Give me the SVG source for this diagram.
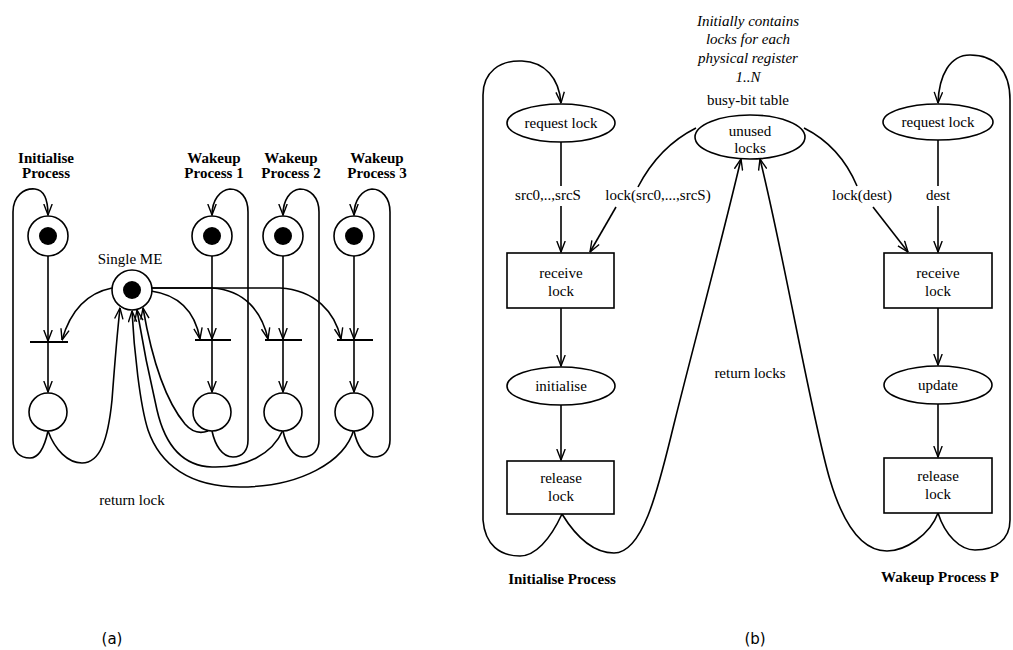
<svg xmlns="http://www.w3.org/2000/svg" width="1013" height="650" viewBox="0 0 1013 650">
  <defs>
    <!-- open V arrowhead used on every directed arc -->
    <marker id="arr" markerUnits="userSpaceOnUse" viewBox="0 0 12 10" refX="11.5" refY="5" markerWidth="12" markerHeight="10" orient="auto">
      <path d="M0.5,0.8 L11.5,5 L0.5,9.2" fill="none" stroke="#000" stroke-width="1.4"/>
    </marker>
  </defs>
  <style>
    .c{fill:none;stroke:#000;stroke-width:1.6}
    .a{marker-end:url(#arr)}
    .place{fill:#fff;stroke:#000;stroke-width:1.6}
    .tok{fill:#000}
    .bar{stroke:#000;stroke-width:2}
    text{font-family:"Liberation Serif",serif;font-size:15px;fill:#000;text-anchor:middle}
    .b{font-weight:bold}
    .i{font-style:italic}
    .sf{font-family:"DejaVu Sans",sans-serif;font-size:15px}
  </style>
  <rect width="1013" height="650" fill="#fff"/>

  <!-- ============ (a) Petri net with a single mutual-exclusion place ============ -->
  <g id="a-connectors">
    <!-- process columns: ready place -> transition -> done place -->
    <path class="c a" d="M48,256 L48,341"/>
    <path class="c a" d="M48,342 L48,392"/>
    <path class="c a" d="M212,256 L212,339"/>
    <path class="c a" d="M212,340 L212,392"/>
    <path class="c a" d="M283,256 L283,339"/>
    <path class="c a" d="M283,340 L283,392"/>
    <path class="c a" d="M354,256 L354,339"/>
    <path class="c a" d="M354,340 L354,392"/>
    <!-- process loops back to the ready place -->
    <path class="c a" d="M48,431 C45,445 40,458 30,458 C20,458 13,452 13,440 L13,212 C13,196 24,188 35,189 C44,190 48,200 48,215"/>
    <path class="c a" d="M212,431 C215,445 222,457 233,457 C243,457 248,450 248,440 L248,212 C248,197 240,189 230,189 C220,190 212,200 212,215"/>
    <path class="c a" d="M283,431 C286,445 293,457 303,457 C313,457 319,450 319,440 L319,212 C319,197 310,189 300,189 C290,190 283,200 283,215"/>
    <path class="c a" d="M354,431 C357,445 364,457 374,457 C384,457 390,450 390,440 L390,212 C390,197 381,189 372,189 C362,190 354,200 354,215"/>
    <!-- lock taken from Single ME -->
    <path class="c a" d="M112,288 C92,292 72,305 62,340"/>
    <path class="c a" d="M151,291 C180,295 195,312 200,339"/>
    <path class="c a" d="M152,288 L212,288 C245,290 262,312 268,339"/>
    <path class="c a" d="M152,288 L280,288 C315,290 335,312 341,339"/>
    <!-- lock returned to Single ME -->
    <path class="c a" d="M48,431 C55,450 68,463 82,463 C100,463 108,440 112,400 C115,360 117,335 120,308"/>
    <path class="c a" d="M208,431 C200,434 192,432 185,424 C165,400 152,360 143,308"/>
    <path class="c a" d="M283,430 C272,455 245,468 212,467 C182,466 165,445 157,410 C150,380 142,340 137,310"/>
    <path class="c a" d="M354,429 C345,462 300,487 240,487 C190,487 160,465 148,430 C140,405 134,350 132,311"/>
  </g>

  <g id="a-init-label"><text class="b" x="46" y="163">Initialise</text><text class="b" x="46" y="178">Process</text></g>
  <g id="a-w1-label"><text class="b" x="214" y="163">Wakeup</text><text class="b" x="214" y="178">Process 1</text></g>
  <g id="a-w2-label"><text class="b" x="291" y="163">Wakeup</text><text class="b" x="291" y="178">Process 2</text></g>
  <g id="a-w3-label"><text class="b" x="377" y="163">Wakeup</text><text class="b" x="377" y="178">Process 3</text></g>

  <g id="a-init-ready"><circle class="place" cx="48" cy="236" r="20"/><circle class="tok" cx="48" cy="236" r="9"/></g>
  <g id="a-w1-ready"><circle class="place" cx="212" cy="236" r="20"/><circle class="tok" cx="212" cy="236" r="9"/></g>
  <g id="a-w2-ready"><circle class="place" cx="283" cy="236" r="20"/><circle class="tok" cx="283" cy="236" r="9"/></g>
  <g id="a-w3-ready"><circle class="place" cx="354" cy="236" r="20"/><circle class="tok" cx="354" cy="236" r="9"/></g>

  <g id="a-single-me">
    <text x="130" y="264">Single ME</text>
    <circle class="place" cx="132" cy="290" r="20"/><circle class="tok" cx="132" cy="290" r="9"/>
  </g>

  <g id="a-init-trans"><line class="bar" x1="30" y1="342" x2="68" y2="342"/></g>
  <g id="a-w1-trans"><line class="bar" x1="195" y1="340" x2="231" y2="340"/></g>
  <g id="a-w2-trans"><line class="bar" x1="265" y1="340" x2="302" y2="340"/></g>
  <g id="a-w3-trans"><line class="bar" x1="337" y1="340" x2="373" y2="340"/></g>

  <g id="a-init-done"><circle class="place" cx="48" cy="412" r="19"/></g>
  <g id="a-w1-done"><circle class="place" cx="212" cy="412" r="19"/></g>
  <g id="a-w2-done"><circle class="place" cx="283" cy="412" r="19"/></g>
  <g id="a-w3-done"><circle class="place" cx="354" cy="412" r="19"/></g>

  <g id="a-return-label"><text x="132" y="505">return lock</text></g>
  <g id="a-caption"><text class="sf" x="112" y="644">(a)</text></g>

  <!-- ============ (b) busy-bit table lock protocol ============ -->
  <g id="b-connectors">
    <!-- initialise process -->
    <path class="c" d="M561,142 L561,186"/>
    <path class="c a" d="M561,206 L561,252"/>
    <path class="c a" d="M561,308 L561,366"/>
    <path class="c a" d="M561,405 L561,460"/>
    <path class="c a" d="M562,514 C550,540 535,556 520,556 C500,556 485,545 483,520 L483,95 C483,72 500,60 522,61 C545,62 559,78 561,103"/>
    <!-- wakeup process -->
    <path class="c" d="M938,140 L938,186"/>
    <path class="c a" d="M938,206 L938,252"/>
    <path class="c a" d="M938,308 L938,365"/>
    <path class="c a" d="M938,404 L938,457"/>
    <path class="c a" d="M938,513 C945,535 960,550 975,550 C995,550 1010,540 1010,520 L1010,100 C1010,70 995,55 970,55 C950,55 939,75 938,103"/>
    <!-- locks granted from the busy-bit table -->
    <path class="c" d="M696,128 C672,140 652,160 638,187"/>
    <path class="c a" d="M616,207 L590,252"/>
    <path class="c" d="M804,128 C828,140 846,160 857,186"/>
    <path class="c a" d="M873,207 L908,252"/>
    <!-- locks returned to the busy-bit table -->
    <path class="c a" d="M562,514 C578,540 596,553 614,553 C645,553 660,480 675,420 C695,340 722,240 741,159"/>
    <path class="c a" d="M938,513 C930,535 905,551 887,551 C860,551 842,520 830,480 C812,420 785,260 760,159"/>
  </g>

  <g id="b-note">
    <text class="i" x="748" y="26">Initially contains</text>
    <text class="i" x="748" y="44">locks for each</text>
    <text class="i" x="748" y="63">physical register</text>
    <text class="i" x="748" y="82">1..N</text>
    <text x="748" y="105">busy-bit table</text>
  </g>

  <g id="b-unused-locks">
    <ellipse class="place" cx="750" cy="137" rx="55" ry="22"/>
    <text x="750" y="136">unused</text>
    <text x="750" y="153">locks</text>
  </g>

  <g id="b-init-request"><ellipse class="place" cx="561" cy="123" rx="54" ry="19"/><text x="561" y="128">request lock</text></g>
  <g id="b-init-receive"><rect class="place" x="507" y="253" width="107" height="55"/><text x="561" y="278">receive</text><text x="561" y="296">lock</text></g>
  <g id="b-init-initialise"><ellipse class="place" cx="561" cy="386" rx="54" ry="19"/><text x="561" y="391">initialise</text></g>
  <g id="b-init-release"><rect class="place" x="507" y="461" width="107" height="53"/><text x="561" y="483">release</text><text x="561" y="501">lock</text></g>

  <g id="b-wake-request"><ellipse class="place" cx="938" cy="122" rx="55" ry="18"/><text x="938" y="127">request lock</text></g>
  <g id="b-wake-receive"><rect class="place" x="884" y="253" width="108" height="55"/><text x="938" y="278">receive</text><text x="938" y="296">lock</text></g>
  <g id="b-wake-update"><ellipse class="place" cx="938" cy="385" rx="54" ry="19"/><text x="938" y="390">update</text></g>
  <g id="b-wake-release"><rect class="place" x="884" y="458" width="108" height="55"/><text x="938" y="481">release</text><text x="938" y="499">lock</text></g>

  <g id="b-arc-labels">
    <text x="548" y="200">src0,..,srcS</text>
    <text x="658" y="200">lock(src0,...,srcS)</text>
    <text x="862" y="200">lock(dest)</text>
    <text x="938" y="200">dest</text>
    <text x="750" y="378">return locks</text>
  </g>

  <g id="b-process-labels">
    <text class="b" x="562" y="584">Initialise Process</text>
    <text class="b" x="940" y="582">Wakeup Process P</text>
  </g>
  <g id="b-caption"><text class="sf" x="755" y="644">(b)</text></g>
</svg>
